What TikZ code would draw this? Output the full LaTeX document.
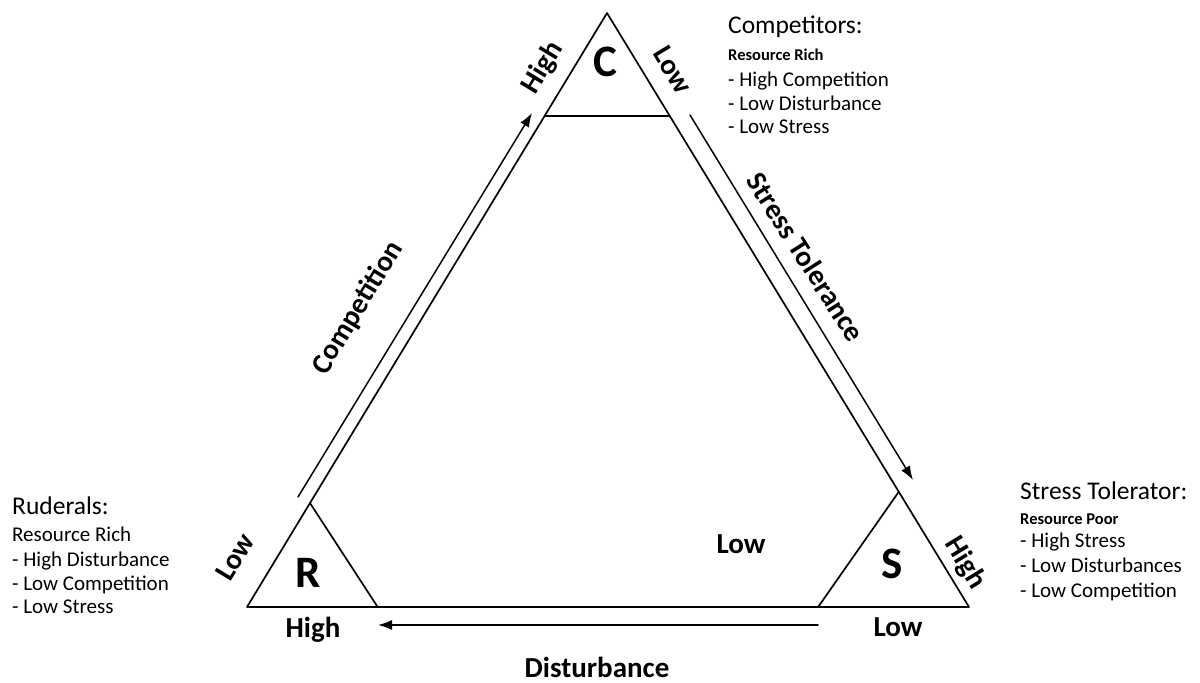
\documentclass[tikz,border=0pt]{standalone}
\usepackage{fontspec}
\setmainfont{Carlito}
\usetikzlibrary{arrows.meta,calc}
\definecolor{CSRInk}{HTML}{000000}

\tikzset{
  cornerletter/.style={font=\fontsize{45}{45}\selectfont\bfseries,anchor=base,inner sep=0pt},
  sidelabel/.style={font=\fontsize{29}{29}\selectfont\bfseries,inner sep=0pt},
  infohead/.style={font=\fontsize{25.5}{26}\selectfont,anchor=base west,inner sep=0pt},
  infosub/.style={font=\fontsize{16.5}{17}\selectfont\bfseries,anchor=base west,inner sep=0pt},
  infoitem/.style={font=\fontsize{21}{22}\selectfont,anchor=base west,inner sep=0pt},
  trend/.style={-{Latex[length=14pt,width=10pt]},line width=1.5pt},
}

\begin{document}
\begin{tikzpicture}[x=1pt,y=-1pt,line cap=round,line join=round,text=CSRInk]
  \useasboundingbox (0,0) rectangle (1200,683);
  % corners of the triangle
  \coordinate (topC) at (607,13);
  \coordinate (leftR) at (247,607);
  \coordinate (rightS) at (969,607);
  \draw[line width=1.7pt] (topC) -- (leftR) -- (rightS) -- cycle;
  % corner regions
  \draw[line width=1.7pt] ($(topC)!0.173!(leftR)$) -- ($(topC)!0.173!(rightS)$);
  \draw[line width=1.7pt] ($(leftR)!0.175!(topC)$) -- ($(leftR)!0.181!(rightS)$);
  \draw[line width=1.7pt] ($(rightS)!0.194!(topC)$) -- ($(rightS)!0.209!(leftR)$);
  \node[cornerletter] (letterC) at (605,76) {C};
  \node[cornerletter] (letterR) at (308,587) {R};
  \node[cornerletter] (letterS) at (892,578) {S};

  % gradient arrows
  \coordinate (compFrom) at (298,497);
  \coordinate (compTo) at (532,113);
  \coordinate (stressFrom) at (690,115);
  \coordinate (stressTo) at (913,480);
  \coordinate (distFrom) at (818,625);
  \coordinate (distTo) at (378,625);
  \draw[trend] (compFrom) -- (compTo);
  \draw[trend] (stressFrom) -- (stressTo);
  \draw[trend] (distFrom) -- (distTo);
  \node[sidelabel,rotate=58.8] (compLabel) at (358,308) {Competition};
  \node[sidelabel,rotate=-57.5] (stressLabel) at (806,257) {Stress Tolerance};
  \node[sidelabel,anchor=base] (distLabel) at (597,677) {Disturbance};

  % high / low ends
  \node[sidelabel,rotate=58.8] (highC) at (543,68) {High};
  \node[sidelabel,rotate=-58.6] (lowC) at (673,70) {Low};
  \node[sidelabel,rotate=58.8] (lowR) at (235,557) {Low};
  \node[sidelabel,anchor=base] (highR) at (313,637) {High};
  \node[sidelabel,rotate=-58.6] (highS) at (965,563) {High};
  \node[sidelabel,anchor=base] (lowS) at (898,636) {Low};
  \node[sidelabel,anchor=base] (lowMid) at (741,553) {Low};

  % strategy notes
  \node[infohead] (compHead) at (728,33) {Competitors:};
  \node[infosub] (compSub) at (728,60) {Resource Rich};
  \node[infoitem] (compA) at (728,86) {- High Competition};
  \node[infoitem] (compB) at (728,110) {- Low Disturbance};
  \node[infoitem] (compC) at (728,133) {- Low Stress};

  \node[infohead] (rudHead) at (12,514) {Ruderals:};
  \node[infoitem] (rudSub) at (12,541) {Resource Rich};
  \node[infoitem] (rudA) at (12,566) {- High Disturbance};
  \node[infoitem] (rudB) at (12,590) {- Low Competition};
  \node[infoitem] (rudC) at (12,613) {- Low Stress};

  \node[infohead] (stressHead) at (1020,499) {Stress Tolerator:};
  \node[infosub] (stressSub) at (1020,524) {Resource Poor};
  \node[infoitem] (stressA) at (1020,547) {- High Stress};
  \node[infoitem] (stressB) at (1020,572) {- Low Disturbances};
  \node[infoitem] (stressC) at (1020,597) {- Low Competition};
\end{tikzpicture}
\end{document}
